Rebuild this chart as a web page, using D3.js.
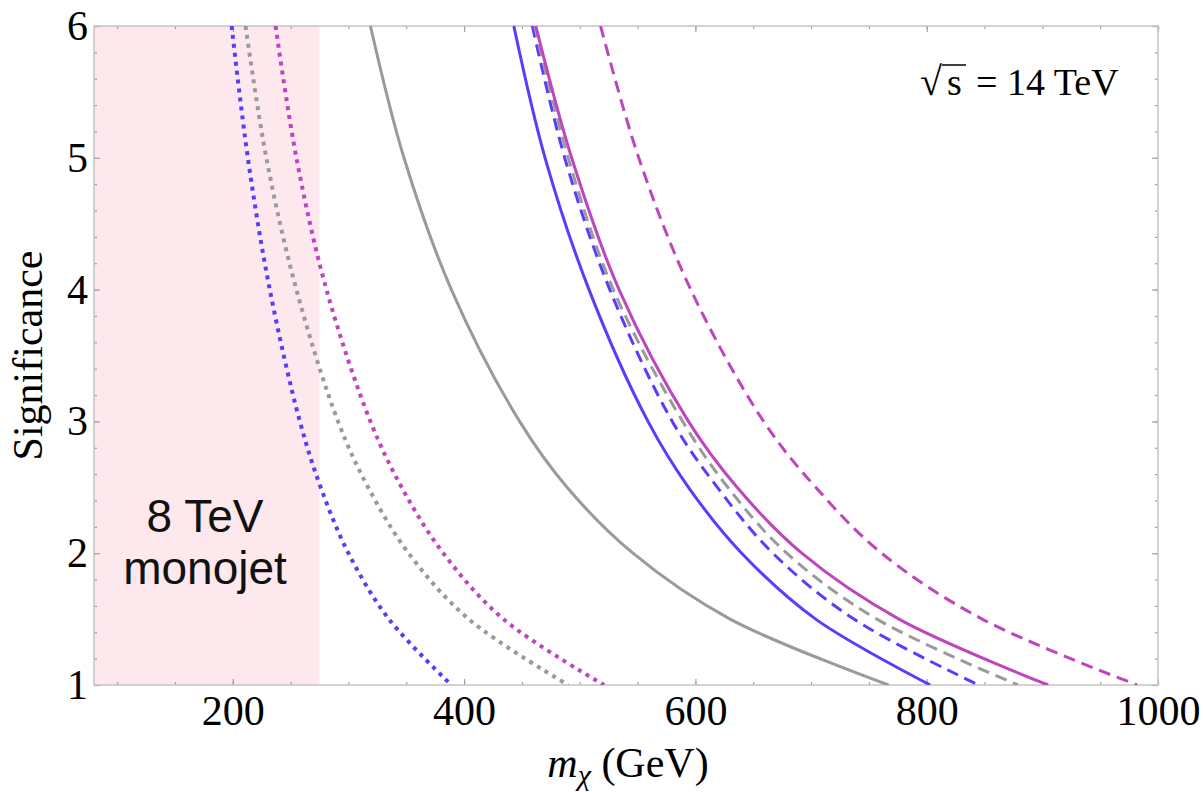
<!DOCTYPE html>
<html>
<head>
<meta charset="utf-8">
<script src="https://cdn.jsdelivr.net/npm/d3@7"></script>
<style>
  body { margin: 0; background: #fff; }
  svg { display: block; }
</style>
</head>
<body>
<svg id="chart" width="1203" height="792"></svg>
<script>
var sigLevels = [6, 5, 4, 3, 2.5, 2, 1.5, 1];

// m_chi (GeV) of each curve at those significance levels
var blueDotted    = [199, 213, 232, 258, 276, 300, 335, 389];
var grayDotted    = [211, 229, 255, 291, 317, 352, 404, 490];
var magentaDotted = [237, 255, 281, 319, 346, 382, 434, 521];
var graySolid     = [319, 348, 389, 448, 489, 546, 630, 767];
var blueSolid     = [443, 470, 508, 559, 594, 640, 704, 803];
var blueDashed    = [459, 487, 526, 580, 619, 667, 737, 845];
var grayDashed    = [461, 490, 529, 589, 628, 679, 757, 879];
var magentaSolid  = [462, 493, 534, 594, 636, 692, 776, 905];
var magentaDashed = [518, 551, 596, 659, 704, 761, 848, 982];

// excluded region (8 TeV monojet)
var excludedMax = 275;

var xTicks = [200, 400, 600, 800, 1000];
var yTicks = [1, 2, 3, 4, 5, 6];

var series = [
  {name: "blueDotted", values: blueDotted},
  {name: "grayDotted", values: grayDotted},
  {name: "magentaDotted", values: magentaDotted},
  {name: "graySolid", values: graySolid},
  {name: "blueSolid", values: blueSolid},
  {name: "blueDashed", values: blueDashed},
  {name: "grayDashed", values: grayDashed},
  {name: "magentaSolid", values: magentaSolid},
  {name: "magentaDashed", values: magentaDashed}
];

// line styles, kept apart from the data
var BLUE = "#5a3cff", GRAY = "#9a9a9a", MAGENTA = "#bf45bf";
var styles = {
  blueDotted:    {color: BLUE, dash: "4,5", width: 4},
  grayDotted:    {color: GRAY, dash: "4,5", width: 4},
  magentaDotted: {color: MAGENTA, dash: "4,5", width: 4},
  graySolid:     {color: GRAY, dash: null, width: 3},
  blueSolid:     {color: BLUE, dash: null, width: 3},
  blueDashed:    {color: BLUE, dash: "12,7", width: 3},
  grayDashed:    {color: GRAY, dash: "12,7", width: 3},
  magentaSolid:  {color: MAGENTA, dash: null, width: 3},
  magentaDashed: {color: MAGENTA, dash: "12,7", width: 3}
};

var svg = d3.select("#chart"),
    plot = {left: 94, right: 1158, top: 26, bottom: 685};

var x = d3.scaleLinear().domain([80, 1000]).range([plot.left, plot.right]),
    y = d3.scaleLinear().domain([1, 6]).range([plot.bottom, plot.top]);

var serif = "'Liberation Serif', 'Times New Roman', serif";

svg.append("defs").append("clipPath").attr("id", "clip")
  .append("rect")
    .attr("x", plot.left).attr("y", plot.top)
    .attr("width", plot.right - plot.left)
    .attr("height", plot.bottom - plot.top);

// shaded region
svg.append("rect")
    .attr("x", x(80))
    .attr("y", y(6))
    .attr("width", x(excludedMax) - x(80))
    .attr("height", y(1) - y(6))
    .attr("fill", "#fde8ed");

svg.append("text")
    .attr("x", 205)
    .attr("font-family", "'Liberation Sans', Arial, sans-serif")
    .attr("font-size", 46)
    .attr("text-anchor", "middle")
    .attr("fill", "#111")
    .selectAll("tspan")
    .data(["8 TeV", "monojet"])
  .enter().append("tspan")
    .attr("x", 205)
    .attr("y", function(d, i) { return 532 + i * 52; })
    .text(function(d) { return d; });

// axes: ticks point inward, mirrored on top and right
var minorX = d3.range(100, 1001, 50),
    minorY = d3.range(1, 6.01, 0.2);

function styleAxis(g) {
  g.select(".domain").remove();
  g.selectAll("line").attr("stroke", "#a0a0a0").attr("stroke-width", 1.2);
}

svg.append("g").attr("transform", "translate(0," + plot.bottom + ")")
    .call(d3.axisBottom(x).tickValues(minorX).tickSizeInner(-3).tickFormat(""))
    .call(styleAxis);
svg.append("g").attr("transform", "translate(0," + plot.top + ")")
    .call(d3.axisTop(x).tickValues(minorX).tickSizeInner(-3).tickFormat(""))
    .call(styleAxis);
svg.append("g").attr("transform", "translate(" + plot.left + ",0)")
    .call(d3.axisLeft(y).tickValues(minorY).tickSizeInner(-3).tickFormat(""))
    .call(styleAxis);
svg.append("g").attr("transform", "translate(" + plot.right + ",0)")
    .call(d3.axisRight(y).tickValues(minorY).tickSizeInner(-3).tickFormat(""))
    .call(styleAxis);

var xAxis = svg.append("g").attr("transform", "translate(0," + plot.bottom + ")")
    .call(d3.axisBottom(x).tickValues(xTicks).tickSizeInner(-6).tickPadding(10)
      .tickFormat(d3.format("d")))
    .call(styleAxis);
svg.append("g").attr("transform", "translate(0," + plot.top + ")")
    .call(d3.axisTop(x).tickValues(xTicks).tickSizeInner(-6).tickFormat(""))
    .call(styleAxis);
var yAxis = svg.append("g").attr("transform", "translate(" + plot.left + ",0)")
    .call(d3.axisLeft(y).tickValues(yTicks).tickSizeInner(-6).tickPadding(6)
      .tickFormat(d3.format("d")))
    .call(styleAxis);
svg.append("g").attr("transform", "translate(" + plot.right + ",0)")
    .call(d3.axisRight(y).tickValues(yTicks).tickSizeInner(-6).tickFormat(""))
    .call(styleAxis);

xAxis.selectAll("text")
    .attr("font-family", serif).attr("font-size", 42).attr("fill", "#000");
yAxis.selectAll("text")
    .attr("font-family", serif).attr("font-size", 42).attr("fill", "#000");

// frame
svg.append("rect")
    .attr("x", plot.left).attr("y", plot.top)
    .attr("width", plot.right - plot.left)
    .attr("height", plot.bottom - plot.top)
    .attr("fill", "none")
    .attr("stroke", "#c4c4c4")
    .attr("stroke-width", 1.5);

// curves
var line = d3.line()
    .x(function(d) { return x(d[0]); })
    .y(function(d) { return y(d[1]); })
    .curve(d3.curveCatmullRom.alpha(0.5));

svg.append("g")
    .attr("clip-path", "url(#clip)")
  .selectAll("path")
    .data(series)
  .enter().append("path")
    .attr("d", function(s) {
      return line(s.values.map(function(m, i) { return [m, sigLevels[i]]; }));
    })
    .attr("fill", "none")
    .attr("stroke", function(s) { return styles[s.name].color; })
    .attr("stroke-width", function(s) { return styles[s.name].width; })
    .attr("stroke-dasharray", function(s) { return styles[s.name].dash; });

// axis titles
svg.append("text")
    .attr("transform", "translate(42," + ((plot.top + plot.bottom) / 2) + ") rotate(-90)")
    .attr("text-anchor", "middle")
    .attr("font-family", serif)
    .attr("font-size", 42)
    .attr("fill", "#000")
    .text("Significance");

var xTitle = svg.append("text")
    .attr("x", (plot.left + plot.right) / 2 + 2)
    .attr("y", 777)
    .attr("text-anchor", "middle")
    .attr("font-family", serif)
    .attr("font-size", 42)
    .attr("fill", "#000");
xTitle.append("tspan").attr("font-style", "italic").text("m");
xTitle.append("tspan").attr("font-style", "italic").attr("font-size", 30)
    .attr("dy", 8).text("\u03C7");
xTitle.append("tspan").attr("dy", -8).text(" (GeV)");

// energy annotation
var ann = svg.append("g").attr("transform", "translate(920,95)");
ann.append("text")
    .attr("font-family", serif)
    .attr("font-size", 40)
    .attr("fill", "#000")
    .text("\u221A");
ann.append("text")
    .attr("x", 27)
    .attr("font-family", serif)
    .attr("font-size", 38)
    .attr("fill", "#000")
    .text("s");
ann.append("line")
    .attr("x1", 22).attr("x2", 46)
    .attr("y1", -30).attr("y2", -30)
    .attr("stroke", "#000").attr("stroke-width", 1.5);
ann.append("text")
    .attr("x", 56)
    .attr("font-family", serif)
    .attr("font-size", 38)
    .attr("fill", "#000")
    .text("= 14 TeV");
</script>
</body>
</html>
